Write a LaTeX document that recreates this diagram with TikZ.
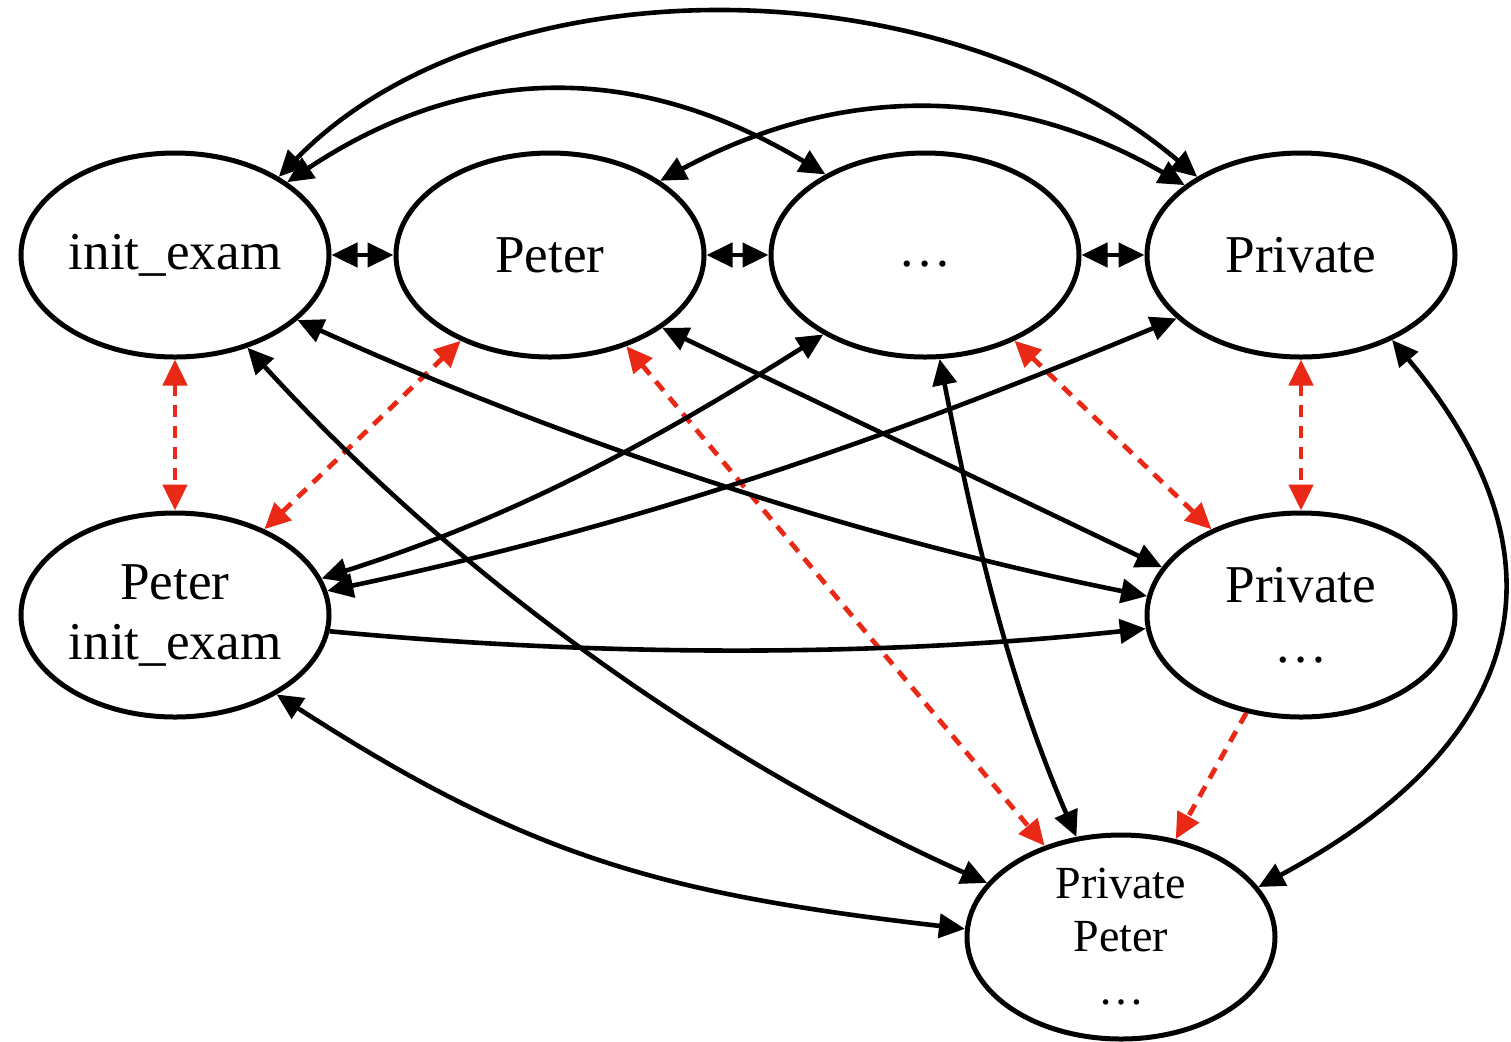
\documentclass[tikz,border=0pt]{standalone}
\usepackage{fontspec}
\setmainfont{Liberation Serif}
\usetikzlibrary{arrows.meta,shapes.geometric}
\definecolor{linkred}{RGB}{234,40,22}
\begin{document}
\begin{tikzpicture}[x=0.5pt,y=-0.5pt,
  state/.style={ellipse,draw,line width=2.5pt,minimum width=154pt,
    minimum height=102pt,inner sep=0pt,align=center,
    font=\fontsize{26.6}{30}\selectfont},
  link/.style={line width=2.3pt,{Triangle[length=13pt,width=12pt]}-{Triangle[length=13pt,width=12pt]}},
  onelink/.style={line width=2.3pt,-{Triangle[length=13pt,width=12pt]}},
  redlink/.style={line width=2.4pt,linkred,dash pattern=on 6pt off 4.5pt,
    {Triangle[length=13pt,width=12pt]}-{Triangle[length=13pt,width=12pt]}},
  redone/.style={line width=2.4pt,linkred,dash pattern=on 6pt off 4.5pt,
    -{Triangle[length=13pt,width=12pt]}}]
\useasboundingbox (0,0) rectangle (1511,1041);

% states
\node[state] (IE)  at (175,255)  {init\_exam};
\node[state] (PE)  at (550,255)  {Peter};
\node[state] (DOT) at (925,255)  {\vphantom{Py}\ldots};
\node[state] (PR)  at (1301,255) {Private};
\node[state] (PIE) at (175,615)  {Peter\\init\_exam};
\node[state] (PRD) at (1301,615) {Private\\\ldots};
\node[state,font=\fontsize{23}{26.5}\selectfont] (PP) at (1121,937) {Private\\Peter\\\ldots};

% arcs over the top row
\draw[link] (IE.37) .. controls (490,-40) and (940,-40) .. (PR.143);
\draw[link] (IE.33) .. controls (468,62) and (638,62) .. (DOT.141);
\draw[link] (PE.34) .. controls (840,84) and (1010,84) .. (PR.149);

% neighbours in the top row
\draw[link] (IE.east) -- (PE.west);
\draw[link] (PE.east) -- (DOT.west);
\draw[link] (DOT.east) -- (PR.west);

% dashed links
\draw[redlink] (IE) -- (PIE);
\draw[redlink] (PE) -- (PIE);
\draw[redlink] (PE) -- (PP);
\draw[redlink] (DOT) -- (PRD);
\draw[redlink] (PR) -- (PRD);
\draw[redone] (PRD) -- (PP);

% solid links between the rows
\draw[link] (IE.-28) .. controls (580,448) and (863,539) .. (PRD.173);
\draw[link] (IE.-52) .. controls (472,594) and (735,770) .. (PP.158);
\draw[link] (PE.-33) -- (PRD.161);
\draw[link] (DOT.218) .. controls (640,450) and (508,519) .. (PIE.14);
\draw[link] (PR.207) .. controls (870,446) and (630,527) .. (PIE.9);
\draw[onelink] (PIE.-6) .. controls (600,657) and (880,657) .. (PRD.185);
\draw[link] (PIE.-38) .. controls (528,857) and (663,894) .. (PP.177);
\draw[link] (DOT.-82) .. controls (972,522) and (1006,675) .. (PP.114);
\draw[link] (PR.-43) .. controls (1560,540) and (1550,730) .. (PP.20);
\end{tikzpicture}
\end{document}
